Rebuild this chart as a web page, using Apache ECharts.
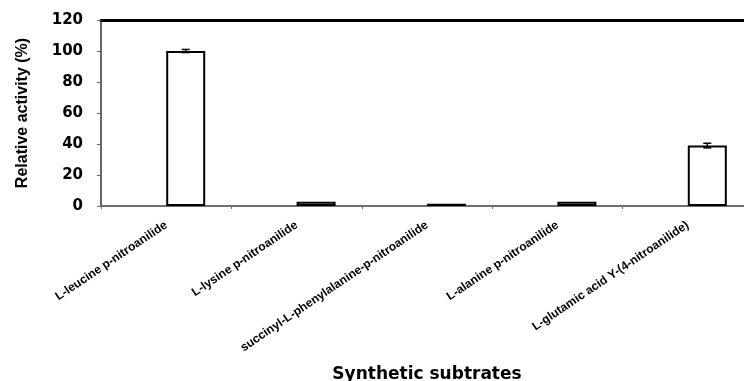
<!DOCTYPE html>
<html><head><meta charset="utf-8">
<script src="https://cdn.jsdelivr.net/npm/echarts@6/dist/echarts.min.js"></script>
<style>html,body{margin:0;padding:0;background:#fff}#c{width:744px;height:381px}</style>
</head><body><div id="c"></div>
<script>
var categories = ['L-leucine p-nitroanilide','L-lysine p-nitroanilide','succinyl-L-phenylalanine-p-nitroanilide','L-alanine p-nitroanilide','L-glutamic acid \u03a5-(4-nitroanilide)'];
var activity = [100, 2.8, 1.5, 2.8, 39];
var errors = [1, 0, 0, 0, 1.5];
var yTicks = [0, 20, 40, 60, 80, 100, 120];

var BAR_W = 39;
var chart = echarts.init(document.getElementById('c'));
var font = "'Liberation Sans', Arial, sans-serif";
var wide = "'DejaVu Sans', 'Liberation Sans', Arial, sans-serif";
chart.setOption({
  animation: false,
  grid: {left: 101, top: 20, width: 652, height: 186, outerBoundsMode: 'none', containLabel: false},
  xAxis: [{
    type: 'category', data: categories, position: 'bottom',
    axisLine: {lineStyle: {color: '#707070', width: 2}},
    axisTick: {show: true, interval: 0, length: 3, lineStyle: {color: '#707070', width: 1}},
    axisLabel: {interval: 0, rotate: 34, margin: 18, fontSize: 12, fontWeight: 'bold', color: '#000', fontFamily: font},
    name: 'Synthetic subtrates', nameLocation: 'middle', nameGap: 160,
    nameTextStyle: {fontSize: 17, fontWeight: 'bold', color: '#000', fontFamily: wide}
  }, {
    type: 'category', data: categories, position: 'top',
    axisLine: {show: true, lineStyle: {color: '#000', width: 3}},
    axisTick: {show: false}, axisLabel: {show: false}
  }],
  yAxis: {
    type: 'value', min: 0, max: 120, interval: 20,
    axisLine: {show: true, lineStyle: {color: '#666', width: 2}},
    axisTick: {show: true, length: 4, lineStyle: {color: '#666'}},
    splitLine: {show: false},
    axisLabel: {margin: 18, fontSize: 15, fontWeight: 'bold', color: '#000', fontFamily: wide,
      formatter: function (v) { return yTicks.indexOf(v) >= 0 ? String(v) : ''; }},
    name: 'Relative activity (%)', nameLocation: 'middle', nameGap: 70, nameRotate: 90,
    nameTextStyle: {fontSize: 16, fontWeight: 'bold', color: '#000', fontFamily: "'Liberation Sans Narrow', 'Arial Narrow', " + font}
  },
  series: [{
    type: 'bar', data: categories.map(function () { return null; }), barWidth: BAR_W, barGap: '0%'
  }, {
    type: 'bar', data: activity, barWidth: BAR_W, barGap: '0%',
    itemStyle: {color: '#fff', borderColor: '#000', borderWidth: 2}
  }, {
    type: 'custom',
    data: activity.map(function (v, i) { return [i, v, errors[i]]; }),
    z: 10,
    renderItem: function (params, api) {
      var i = api.value(0), v = api.value(1), e = api.value(2);
      if (!e) return null;
      var hi = api.coord([i, v + e]), lo = api.coord([i, v - e]);
      var x = hi[0] + BAR_W / 2, cw = 4;
      var st = {stroke: '#000', lineWidth: 1.5};
      return {type: 'group', children: [
        {type: 'line', shape: {x1: x, y1: hi[1], x2: x, y2: lo[1]}, style: st},
        {type: 'line', shape: {x1: x - cw, y1: hi[1], x2: x + cw, y2: hi[1]}, style: st},
        {type: 'line', shape: {x1: x - cw, y1: lo[1], x2: x + cw, y2: lo[1]}, style: st}
      ]};
    }
  }]
});
</script></body></html>
